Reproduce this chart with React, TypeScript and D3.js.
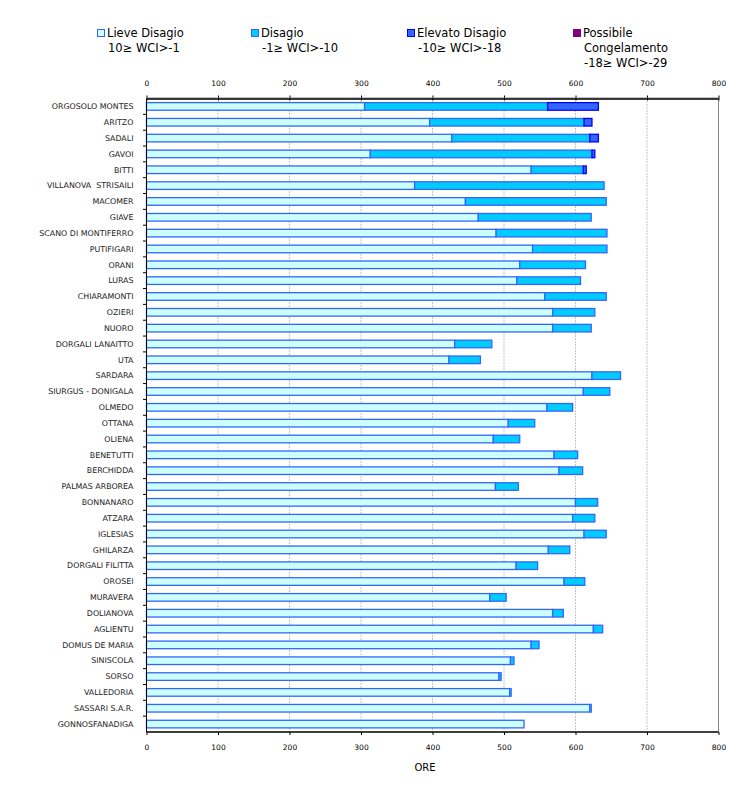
import * as d3 from "d3";
import { useEffect, useRef } from "react";

const stations = [
  "ORGOSOLO MONTES", "ARITZO", "SADALI", "GAVOI", "BITTI", "VILLANOVA  STRISAILI",
  "MACOMER", "GIAVE", "SCANO DI MONTIFERRO", "PUTIFIGARI", "ORANI", "LURAS",
  "CHIARAMONTI", "OZIERI", "NUORO", "DORGALI LANAITTO", "UTA", "SARDARA",
  "SIURGUS - DONIGALA", "OLMEDO", "OTTANA", "OLIENA", "BENETUTTI", "BERCHIDDA",
  "PALMAS ARBOREA", "BONNANARO", "ATZARA", "IGLESIAS", "GHILARZA", "DORGALI FILITTA",
  "OROSEI", "MURAVERA", "DOLIANOVA", "AGLIENTU", "DOMUS DE MARIA", "SINISCOLA",
  "SORSO", "VALLEDORIA", "SASSARI S.A.R.", "GONNOSFANADIGA",
];

// ore per classe di disagio
const lieve = [
  305, 396, 427, 313, 538, 375, 446, 464, 489, 540, 522, 518, 557, 568, 568, 431, 423, 623,
  611, 560, 506, 485, 570, 577, 488, 600, 596, 612, 562, 517, 584, 480, 568, 625, 538, 509,
  493, 508, 620, 528,
];
const disagio = [
  256, 216, 193, 310, 73, 265, 197, 158, 155, 104, 92, 89, 86, 59, 54, 52, 44, 40, 37, 36,
  37, 37, 33, 33, 32, 31, 31, 31, 30, 30, 29, 23, 15, 13, 11, 5, 3, 2, 2, 0,
];
const elevato = [
  71, 11, 12, 4, 4, 0, 0, 0, 0, 0, 0, 0, 0, 0, 0, 0, 0, 0, 0, 0, 0, 0, 0, 0, 0, 0, 0, 0, 0,
  0, 0, 0, 0, 0, 0, 0, 0, 0, 0, 0,
];
const congelamento = stations.map(() => 0);

const seriesKeys = ["lieve", "disagio", "elevato", "congelamento"];
const legendLines = [
  ["Lieve Disagio", "10\u2265 WCI>-1"],
  ["Disagio", "-1\u2265 WCI>-10"],
  ["Elevato Disagio", "-10\u2265 WCI>-18"],
  ["Possibile", "Congelamento", "-18\u2265 WCI>-29"],
];
const fills = ["#ccffff", "#00ccff", "#3366ff", "#800080"];
const strokes = ["#3366ff", "#3366ff", "#0000ff", "#800080"];
const legendX = [97, 251, 407, 573];

const width = 756;
const height = 798;
const left = 146.5;
const right = 718.5;
const top = 98.5;
const bottom = 732;

const font = "'DejaVu Sans', Verdana, sans-serif";

export default function App() {
  const topRef = useRef<SVGGElement>(null);
  const bottomRef = useRef<SVGGElement>(null);

  const x = d3.scaleLinear([0, 800], [left, right]);
  const y = d3.scaleBand(stations, [top, bottom]);
  const barH = y.step() * 0.48;

  const rows = stations.map((s, i) => ({
    station: s,
    lieve: lieve[i],
    disagio: disagio[i],
    elevato: elevato[i],
    congelamento: congelamento[i],
  }));
  const stacked = d3.stack<any>().keys(seriesKeys)(rows);

  useEffect(() => {
    const styleAxis = (g: d3.Selection<SVGGElement, unknown, null, undefined>) => {
      g.select(".domain").remove();
      g.selectAll(".tick line").attr("stroke", "#000");
      g.selectAll(".tick text")
        .attr("font-family", font)
        .attr("font-size", 7.5)
        .attr("fill", "#000");
    };
    const gt = d3.select(topRef.current!);
    gt.selectAll("*").remove();
    gt.attr("transform", `translate(0,${top})`)
      .call(d3.axisTop(x).ticks(8).tickSize(3).tickPadding(10).tickSizeOuter(0))
      .call(styleAxis);
    gt.selectAll(".tick line").attr("y2", -3).attr("y1", 2);

    const gb = d3.select(bottomRef.current!);
    gb.selectAll("*").remove();
    gb.attr("transform", `translate(0,${bottom})`)
      .call(d3.axisBottom(x).ticks(8).tickSize(3).tickPadding(10).tickSizeOuter(0))
      .call(styleAxis);
  }, [x]);

  return (
    <svg
      width={width}
      height={height}
      style={{ position: "absolute", left: 0, top: 0, background: "#fff" }}
    >
      {/* legenda */}
      {legendLines.map((lines, i) => (
        <g key={i}>
          <rect
            x={legendX[i] + 0.5}
            y={29.5}
            width={7}
            height={7}
            fill={fills[i]}
            stroke={strokes[i]}
          />
          {lines.map((t, j) => (
            <text
              key={j}
              x={legendX[i] + (j === 0 ? 10 : 11)}
              y={37 + j * 15}
              fontFamily={font}
              fontSize={11.5}
              fill="#000"
            >
              {t}
            </text>
          ))}
        </g>
      ))}

      {/* griglia */}
      {x.ticks(8).slice(1, -1).map((t) => (
        <line
          key={t}
          x1={x(t)}
          x2={x(t)}
          y1={top}
          y2={bottom}
          stroke="#888"
          strokeDasharray="1,2"
        />
      ))}
      <line x1={x(800)} x2={x(800)} y1={top} y2={bottom} stroke="#888" />

      {/* barre */}
      {stacked.map((layer, k) => (
        <g key={layer.key} fill={fills[k]} stroke={strokes[k]} strokeWidth={1.3}>
          {layer
            .filter((d) => d[1] - d[0] > 0)
            .map((d, i) => (
              <rect
                key={i}
                x={x(d[0])}
                y={y(d.data.station)! + (y.step() - barH) / 2}
                width={x(d[1]) - x(d[0])}
                height={barH}
              />
            ))}
        </g>
      ))}

      {/* asse categorie */}
      <line x1={left} x2={left} y1={top} y2={bottom} stroke="#000" />
      {stations.map((s, i) => (
        <g key={s}>
          {i > 0 && (
            <line
              x1={left - 3.5}
              x2={left}
              y1={y(s)!}
              y2={y(s)!}
              stroke="#000"
            />
          )}
          <text
            x={left - 13}
            y={y(s)! + y.step() / 2}
            dy="0.35em"
            textAnchor="end"
            fontFamily={font}
            fontSize={7.9}
            fill="#222"
            style={{ whiteSpace: "pre" }}
          >
            {s}
          </text>
        </g>
      ))}

      <g ref={topRef} />
      <g ref={bottomRef} />
      <line x1={left} x2={right} y1={top - 0.5} y2={top - 0.5} stroke="#888" strokeWidth={1} />
      <line x1={left} x2={right} y1={top + 0.5} y2={top + 0.5} stroke="#000" strokeWidth={1.5} />
      <line x1={left} x2={right} y1={bottom} y2={bottom} stroke="#000" strokeWidth={1.5} />

      <text
        x={425}
        y={771}
        textAnchor="middle"
        fontFamily={font}
        fontSize={10}
        fill="#000"
      >
        ORE
      </text>
    </svg>
  );
}
